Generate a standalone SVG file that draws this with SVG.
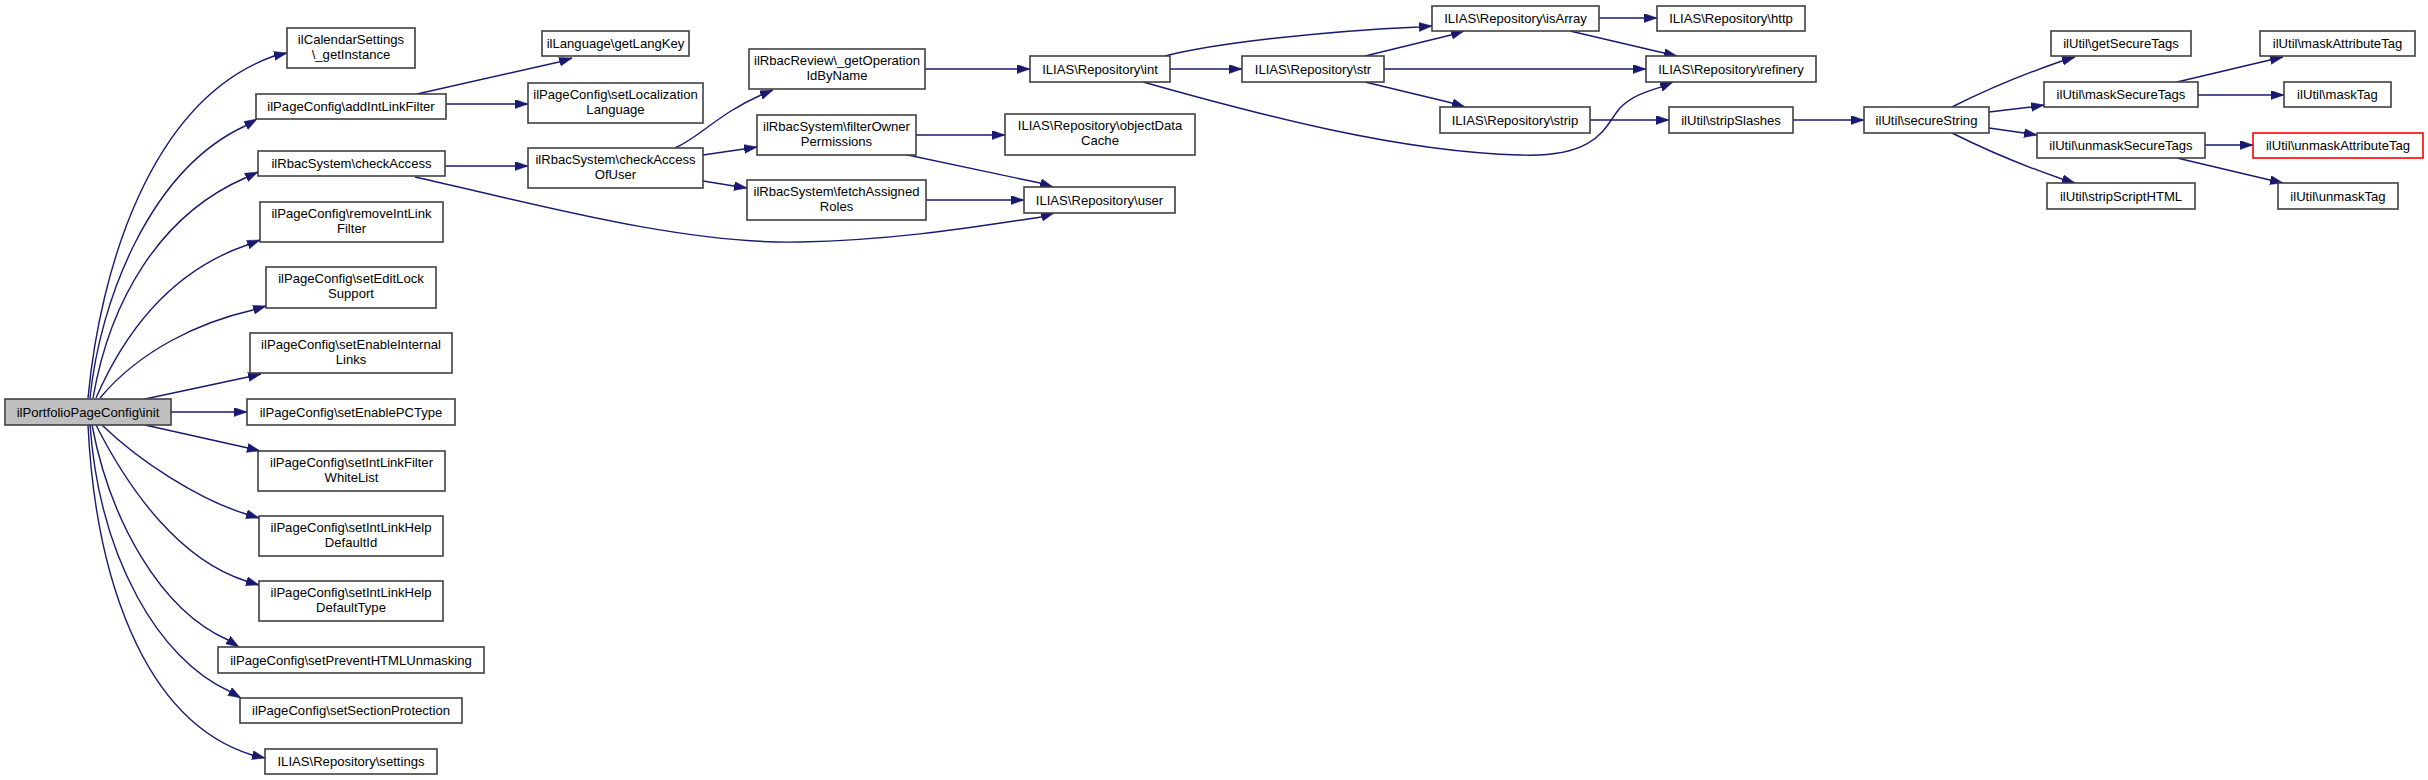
<svg xmlns="http://www.w3.org/2000/svg" width="2428" height="780" viewBox="0 0 2428 780">
<style>
.n rect{fill:#ffffff;stroke:#404040;stroke-width:1.6}
.n.root rect{fill:#bfbfbf}
.n.red rect{stroke:#ff0000}
.n text{font-family:"Liberation Sans",Arial,Helvetica,sans-serif;font-size:13.1px;fill:#000000;text-anchor:middle}
.e path{fill:none;stroke:#191970;stroke-width:1.4;marker-end:url(#ah)}
</style>
<defs>
<marker id="ah" markerUnits="userSpaceOnUse" markerWidth="14" markerHeight="10" refX="13" refY="4.5" orient="auto">
<path d="M0,0 L13,4.5 L0,9 z" fill="#191970" stroke="#191970" stroke-width="0.5"/>
</marker>
</defs>
<rect width="2428" height="780" fill="#ffffff"/>
<g id="connectors" class="e">
<path d="M88,398 C100,270 150,100 274,56 L287,53"/>
<path d="M90,398 C100,300 150,170 245,126 L257,119"/>
<path d="M93,398 C110,300 160,215 245,178 L258,172"/>
<path d="M96,398 C130,320 180,268 247,245 L260,240"/>
<path d="M100,398 C140,350 200,322 253,310 L266,306"/>
<path d="M145,399 L248,377 L261,374"/>
<path d="M171,412 L247,412"/>
<path d="M145,425 L248,448 L260,451"/>
<path d="M102,425 C140,462 200,500 246,514 L259,518"/>
<path d="M96,425 C130,492 180,560 246,581 L259,585"/>
<path d="M92,425 C110,520 160,610 228,640 L239,647"/>
<path d="M90,425 C100,560 160,660 229,691 L241,698"/>
<path d="M88,425 C95,570 140,720 252,755 L265,758"/>
<path d="M417,94 L559,62 L572,58"/>
<path d="M446,104 L528,104"/>
<path d="M445,166 L528,166"/>
<path d="M415,177 C520,200 680,245 800,242 C900,240 980,226 1041,217 L1054,213"/>
<path d="M675,148 C700,137 718,114 761,95 L773,90"/>
<path d="M703,155 L744,149 L757,147"/>
<path d="M703,181 L734,186 L747,188"/>
<path d="M925,69 L1030,69"/>
<path d="M916,135 L1005,135"/>
<path d="M903,154 L1040,183 L1053,187"/>
<path d="M926,200 L1024,200"/>
<path d="M1170,69 L1242,69"/>
<path d="M1165,56 C1220,42 1330,31 1419,27 L1432,26"/>
<path d="M1143,82 C1260,115 1400,152 1520,155 C1600,158 1605,125 1620,108 C1632,96 1645,92 1661,87 L1673,82"/>
<path d="M1365,56 L1451,35 L1464,31"/>
<path d="M1384,69 L1646,69"/>
<path d="M1365,82 L1452,103 L1465,107"/>
<path d="M1599,18 L1657,18"/>
<path d="M1570,31 L1664,53 L1677,56"/>
<path d="M1590,120 L1669,120"/>
<path d="M1793,120 L1864,120"/>
<path d="M1952,107 C1990,88 2030,72 2062,61 L2075,57"/>
<path d="M1989,112 L2031,107 L2044,105"/>
<path d="M1989,128 L2024,133 L2037,135"/>
<path d="M1952,133 C1990,152 2030,168 2062,179 L2075,183"/>
<path d="M2177,82 L2270,60 L2283,57"/>
<path d="M2198,95 L2284,95"/>
<path d="M2205,145 L2253,145"/>
<path d="M2177,158 L2270,180 L2283,183"/>
</g>
<g id="n_init" class="n root"><rect x="5" y="399" width="166" height="26"/><text x="88" y="416.5">ilPortfolioPageConfig\init</text></g>
<g id="n_calendar" class="n"><rect x="287" y="28" width="128" height="40"/><text x="351" y="44.3">ilCalendarSettings</text><text x="351" y="58.7">\_getInstance</text></g>
<g id="n_addIntLinkFilter" class="n"><rect x="256" y="94" width="190" height="25"/><text x="351" y="110.5">ilPageConfig\addIntLinkFilter</text></g>
<g id="n_checkAccess" class="n"><rect x="258" y="151" width="187" height="25"/><text x="351.5" y="167.5">ilRbacSystem\checkAccess</text></g>
<g id="n_removeIntLinkFilter" class="n"><rect x="260" y="202" width="183" height="40"/><text x="351.5" y="218.3">ilPageConfig\removeIntLink</text><text x="351.5" y="232.7">Filter</text></g>
<g id="n_setEditLockSupport" class="n"><rect x="266" y="267" width="170" height="41"/><text x="351" y="283.3">ilPageConfig\setEditLock</text><text x="351" y="297.7">Support</text></g>
<g id="n_setEnableInternalLinks" class="n"><rect x="250" y="333" width="202" height="40"/><text x="351" y="349.3">ilPageConfig\setEnableInternal</text><text x="351" y="363.7">Links</text></g>
<g id="n_setEnablePCType" class="n"><rect x="247" y="399" width="208" height="26"/><text x="351" y="416.5">ilPageConfig\setEnablePCType</text></g>
<g id="n_setIntLinkFilterWhiteList" class="n"><rect x="258" y="451" width="187" height="40"/><text x="351.5" y="467.3">ilPageConfig\setIntLinkFilter</text><text x="351.5" y="481.7">WhiteList</text></g>
<g id="n_setIntLinkHelpDefaultId" class="n"><rect x="259" y="516" width="184" height="40"/><text x="351" y="532.3">ilPageConfig\setIntLinkHelp</text><text x="351" y="546.7">DefaultId</text></g>
<g id="n_setIntLinkHelpDefaultType" class="n"><rect x="259" y="581" width="184" height="40"/><text x="351" y="597.3">ilPageConfig\setIntLinkHelp</text><text x="351" y="611.7">DefaultType</text></g>
<g id="n_setPreventHTMLUnmasking" class="n"><rect x="218" y="647" width="266" height="26"/><text x="351" y="664.5">ilPageConfig\setPreventHTMLUnmasking</text></g>
<g id="n_setSectionProtection" class="n"><rect x="240" y="698" width="222" height="25"/><text x="351" y="714.5">ilPageConfig\setSectionProtection</text></g>
<g id="n_settings" class="n"><rect x="265" y="749" width="172" height="25"/><text x="351" y="765.5">ILIAS\Repository\settings</text></g>
<g id="n_getLangKey" class="n"><rect x="542" y="31" width="147" height="25"/><text x="615.5" y="47.5">ilLanguage\getLangKey</text></g>
<g id="n_setLocalizationLanguage" class="n"><rect x="528" y="83" width="175" height="40"/><text x="615.5" y="99.3">ilPageConfig\setLocalization</text><text x="615.5" y="113.7">Language</text></g>
<g id="n_checkAccessOfUser" class="n"><rect x="528" y="148" width="175" height="40"/><text x="615.5" y="164.3">ilRbacSystem\checkAccess</text><text x="615.5" y="178.7">OfUser</text></g>
<g id="n_getOperationIdByName" class="n"><rect x="749" y="49" width="176" height="40"/><text x="837" y="65.3">ilRbacReview\_getOperation</text><text x="837" y="79.7">IdByName</text></g>
<g id="n_filterOwnerPermissions" class="n"><rect x="757" y="115" width="159" height="40"/><text x="836.5" y="131.3">ilRbacSystem\filterOwner</text><text x="836.5" y="145.7">Permissions</text></g>
<g id="n_fetchAssignedRoles" class="n"><rect x="747" y="180" width="179" height="40"/><text x="836.5" y="196.3">ilRbacSystem\fetchAssigned</text><text x="836.5" y="210.7">Roles</text></g>
<g id="n_int" class="n"><rect x="1030" y="56" width="140" height="26"/><text x="1100" y="73.5">ILIAS\Repository\int</text></g>
<g id="n_objectDataCache" class="n"><rect x="1005" y="114" width="190" height="41"/><text x="1100" y="130.3">ILIAS\Repository\objectData</text><text x="1100" y="144.7">Cache</text></g>
<g id="n_user" class="n"><rect x="1024" y="187" width="151" height="26"/><text x="1099.5" y="204.5">ILIAS\Repository\user</text></g>
<g id="n_str" class="n"><rect x="1242" y="56" width="142" height="26"/><text x="1313" y="73.5">ILIAS\Repository\str</text></g>
<g id="n_isArray" class="n"><rect x="1432" y="6" width="167" height="25"/><text x="1515.5" y="22.5">ILIAS\Repository\isArray</text></g>
<g id="n_strip" class="n"><rect x="1440" y="107" width="150" height="26"/><text x="1515" y="124.5">ILIAS\Repository\strip</text></g>
<g id="n_http" class="n"><rect x="1657" y="6" width="148" height="25"/><text x="1731" y="22.5">ILIAS\Repository\http</text></g>
<g id="n_refinery" class="n"><rect x="1646" y="56" width="170" height="26"/><text x="1731" y="73.5">ILIAS\Repository\refinery</text></g>
<g id="n_stripSlashes" class="n"><rect x="1669" y="107" width="124" height="26"/><text x="1731" y="124.5">ilUtil\stripSlashes</text></g>
<g id="n_secureString" class="n"><rect x="1864" y="107" width="125" height="26"/><text x="1926.5" y="124.5">ilUtil\secureString</text></g>
<g id="n_getSecureTags" class="n"><rect x="2051" y="31" width="140" height="25"/><text x="2121" y="47.5">ilUtil\getSecureTags</text></g>
<g id="n_maskSecureTags" class="n"><rect x="2044" y="82" width="154" height="25"/><text x="2121" y="98.5">ilUtil\maskSecureTags</text></g>
<g id="n_unmaskSecureTags" class="n"><rect x="2037" y="133" width="168" height="25"/><text x="2121" y="149.5">ilUtil\unmaskSecureTags</text></g>
<g id="n_stripScriptHTML" class="n"><rect x="2047" y="183" width="148" height="26"/><text x="2121" y="200.5">ilUtil\stripScriptHTML</text></g>
<g id="n_maskAttributeTag" class="n"><rect x="2260" y="31" width="155" height="25"/><text x="2337.5" y="47.5">ilUtil\maskAttributeTag</text></g>
<g id="n_maskTag" class="n"><rect x="2284" y="82" width="107" height="25"/><text x="2337.5" y="98.5">ilUtil\maskTag</text></g>
<g id="n_unmaskAttributeTag" class="n red"><rect x="2253" y="133" width="170" height="25"/><text x="2338" y="149.5">ilUtil\unmaskAttributeTag</text></g>
<g id="n_unmaskTag" class="n"><rect x="2278" y="183" width="120" height="26"/><text x="2338" y="200.5">ilUtil\unmaskTag</text></g>
</svg>
